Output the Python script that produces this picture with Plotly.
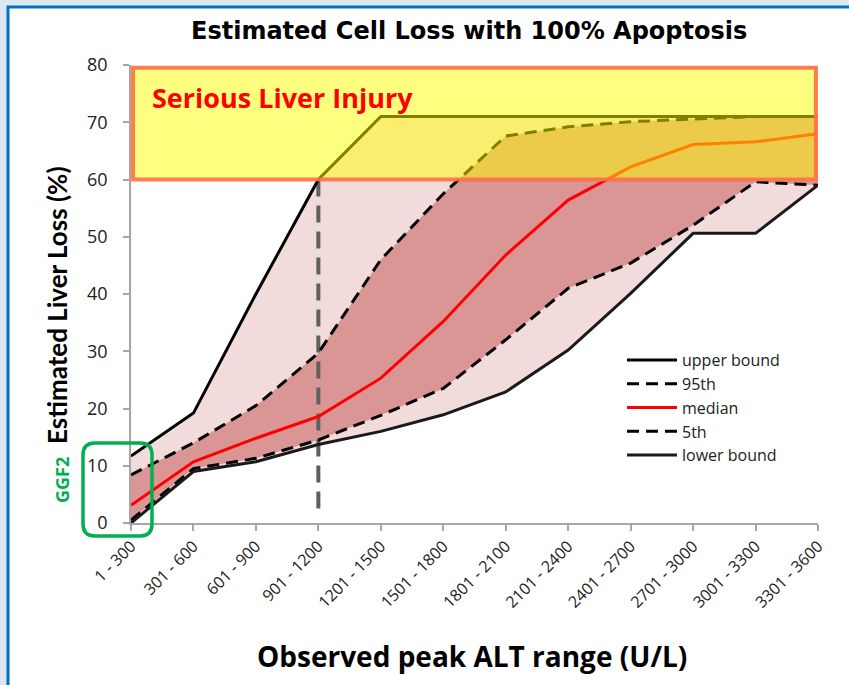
import plotly.graph_objects as go

# ALT ranges (U/L) and estimated liver loss (%) for each summary statistic
categories = ["1 - 300", "301 - 600", "601 - 900", "901 - 1200", "1201 - 1500",
              "1501 - 1800", "1801 - 2100", "2101 - 2400", "2401 - 2700",
              "2701 - 3000", "3001 - 3300", "3301 - 3600"]
upper_bound = [11.7, 19.2, 40.0, 60.0, 71.0, 71.0, 71.0, 71.0, 71.0, 71.0, 71.0, 71.0]
p95 = [8.4, 14.0, 20.5, 29.7, 46.0, 57.5, 67.6, 69.2, 70.1, 70.6, 71.0, 71.0]
median = [3.1, 10.7, 14.8, 18.6, 25.3, 35.2, 46.8, 56.4, 62.2, 66.1, 66.6, 68.0]
p5 = [0.5, 9.5, 11.3, 14.5, 18.8, 23.5, 32.0, 41.0, 45.4, 52.0, 59.6, 59.0]
lower_bound = [0.0, 9.0, 10.7, 13.7, 16.0, 18.9, 22.9, 30.2, 40.1, 50.6, 50.6, 59.0]

# Serious injury threshold and the ALT range where the upper bound reaches it
injury_low, injury_high = 60, 79.5
threshold_idx = 3
marker_bottom = 2.0

# plot-area geometry in pixels
W, H = 849, 685
PL, PR, PT, PB = 131, 818, 65, 523


def px_x(px):
    return (px - PL) / (PR - PL)


def px_y(py):
    return (PB - py) / (PB - PT)


LIGHT = "#f2dcdb"
DARK = "#d99694"
FONT = "Open Sans"

fig = go.Figure()

# shaded bands: full range and 5th-95th percentile band
fig.add_trace(go.Scatter(x=categories, y=lower_bound, mode="lines",
                         line=dict(width=0), showlegend=False, hoverinfo="skip"))
fig.add_trace(go.Scatter(x=categories, y=upper_bound, mode="lines", fill="tonexty",
                         fillcolor=LIGHT, line=dict(width=0), showlegend=False,
                         hoverinfo="skip"))
fig.add_trace(go.Scatter(x=categories, y=p5, mode="lines",
                         line=dict(width=0), showlegend=False, hoverinfo="skip"))
fig.add_trace(go.Scatter(x=categories, y=p95, mode="lines", fill="tonexty",
                         fillcolor=DARK, line=dict(width=0), showlegend=False,
                         hoverinfo="skip"))

# vertical marker at the ALT range where the upper bound hits the threshold
fig.add_trace(go.Scatter(x=[categories[threshold_idx]] * 2,
                         y=[upper_bound[threshold_idx], marker_bottom],
                         mode="lines", line=dict(color="#5f5f5f", width=4, dash="17px,9px"),
                         showlegend=False, hoverinfo="skip"))

dash = "12px,7px"
fig.add_trace(go.Scatter(x=categories, y=upper_bound, mode="lines", name="upper bound",
                         line=dict(color="black", width=3)))
fig.add_trace(go.Scatter(x=categories, y=p95, mode="lines", name="95th",
                         line=dict(color="black", width=3, dash=dash)))
fig.add_trace(go.Scatter(x=categories, y=median, mode="lines", name="median",
                         line=dict(color="#ff0000", width=3)))
fig.add_trace(go.Scatter(x=categories, y=p5, mode="lines", name="5th",
                         line=dict(color="black", width=3, dash=dash)))
fig.add_trace(go.Scatter(x=categories, y=lower_bound, mode="lines", name="lower bound",
                         line=dict(color="#1a1a1a", width=3)))

shapes = [
    # white card with blue frame
    dict(type="rect", xref="paper", yref="paper", layer="below",
         x0=px_x(8), x1=px_x(900), y0=px_y(7), y1=px_y(720),
         line=dict(color="#0070c0", width=3), fillcolor="white"),
    # serious liver injury zone
    dict(type="rect", xref="paper", yref="y", layer="above",
         x0=0, x1=1, y0=injury_low, y1=injury_high,
         fillcolor="#ffff00", opacity=0.5, line=dict(width=0)),
    dict(type="rect", xref="paper", yref="y", layer="above",
         x0=0.003, x1=0.997, y0=injury_low, y1=injury_high,
         fillcolor="rgba(0,0,0,0)", line=dict(color="#ff7048", width=4), opacity=0.9),
]

# rounded green box around the lowest ALT range
gx0, gx1, gy0, gy1, r = 83, 152, 443, 536, 12
path = (f"M {px_x(gx0 + r)},{px_y(gy0)} L {px_x(gx1 - r)},{px_y(gy0)} "
        f"Q {px_x(gx1)},{px_y(gy0)} {px_x(gx1)},{px_y(gy0 + r)} "
        f"L {px_x(gx1)},{px_y(gy1 - r)} "
        f"Q {px_x(gx1)},{px_y(gy1)} {px_x(gx1 - r)},{px_y(gy1)} "
        f"L {px_x(gx0 + r)},{px_y(gy1)} "
        f"Q {px_x(gx0)},{px_y(gy1)} {px_x(gx0)},{px_y(gy1 - r)} "
        f"L {px_x(gx0)},{px_y(gy0 + r)} "
        f"Q {px_x(gx0)},{px_y(gy0)} {px_x(gx0 + r)},{px_y(gy0)} Z")
shapes.append(dict(type="path", xref="paper", yref="paper", layer="above", path=path,
                   line=dict(color="#00b050", width=3.5), fillcolor="rgba(0,0,0,0)"))

annotations = [
    dict(text="<b>Serious Liver Injury</b>", xref="paper", yref="paper",
         x=px_x(150), y=px_y(97), xanchor="left", yanchor="middle", showarrow=False,
         font=dict(family=FONT, size=27, color="#ff0000")),
    dict(text="<b>GGF2</b>", xref="paper", yref="paper", x=px_x(62), y=px_y(480),
         xanchor="center", yanchor="middle", showarrow=False, textangle=-90,
         font=dict(family=FONT, size=18, color="#00b050")),
    dict(text="<b>Estimated Cell Loss with 100% Apoptosis</b>", xref="paper", yref="paper",
         x=px_x(469), y=px_y(31), xanchor="center", yanchor="middle", showarrow=False,
         font=dict(family="DejaVu Sans", size=24, color="black")),
    dict(text="<b>Estimated Liver Loss (%)</b>", xref="paper", yref="paper",
         x=px_x(57), y=px_y(305), xanchor="center", yanchor="middle", showarrow=False,
         textangle=-90, font=dict(family="Lato", size=26, color="black")),
    dict(text="<b>Observed peak ALT range (U/L)</b>", xref="paper", yref="paper",
         x=px_x(472), y=px_y(656), xanchor="center", yanchor="middle", showarrow=False,
         font=dict(family=FONT, size=28, color="black")),
]

fig.update_layout(
    width=W, height=H,
    margin=dict(l=PL, r=W - PR, t=PT, b=H - PB, pad=0),
    paper_bgcolor="#dde6f1",
    plot_bgcolor="rgba(0,0,0,0)",
    shapes=shapes,
    annotations=annotations,
    showlegend=True,
    legend=dict(x=px_x(622), y=px_y(343), xanchor="left", yanchor="top",
                traceorder="normal", bgcolor="rgba(0,0,0,0)",
                font=dict(family=FONT, size=16, color="#222"),
                tracegroupgap=0, itemwidth=50),
    xaxis=dict(type="category", range=[0, len(categories) - 1], showgrid=False,
               zeroline=False, showline=True, linecolor="#a6a6a6", linewidth=1.5,
               ticks="outside", ticklen=6, tickcolor="#a6a6a6", tickwidth=1.5,
               tickangle=-45, tickfont=dict(family=FONT, size=16, color="#222"),
               automargin=False),
    yaxis=dict(range=[0, 80], dtick=10, showgrid=False, zeroline=False, showline=True,
               linecolor="#a6a6a6", linewidth=1.5, ticks="outside", ticklen=6,
               tickcolor="#a6a6a6", tickwidth=1.5, ticklabelstandoff=12,
               tickfont=dict(family=FONT, size=18, color="#222"), automargin=False),
)

fig.write_html("out.html")
